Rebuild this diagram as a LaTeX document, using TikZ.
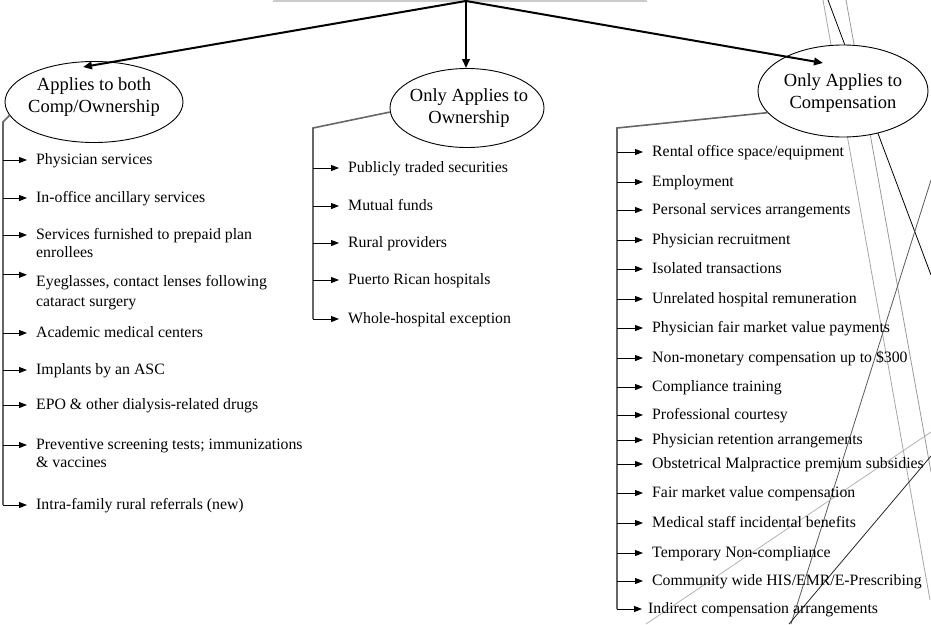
\documentclass[tikz,border=0pt]{standalone}
\usepackage{fontspec}
\setmainfont{Liberation Serif}
\usetikzlibrary{shapes.geometric,arrows.meta}

\tikzset{
  bubble/.style={ellipse, draw, fill=white, line width=0.9pt, inner sep=0pt},
  bubbletext/.style={align=center, inner sep=0pt, font=\fontsize{18.5}{21.5}\selectfont},
  item/.style={anchor=west, inner sep=0pt, text height=11pt, text depth=3pt, font=\fontsize{15.8}{18}\selectfont},
  branch/.style={line width=2pt, -{Triangle[length=9pt,width=7.5pt]}},
  tick/.style={line width=1pt, -{Triangle[length=8pt,width=6pt]}, shorten >=9pt},
  bracket/.style={draw=black!60, line width=1.6pt},
  swoosh/.style={line width=0.8pt}
}

\begin{document}
\begin{tikzpicture}[x=1pt, y=-1pt]
  \useasboundingbox (0,0) rectangle (931,624);

  % template lines in the back
  \draw[swoosh, black!35] (823,0) -- (930,600);
  \draw[swoosh, black!40] (846,0) -- (931,472);
  \draw[swoosh, black] (828,0) -- (931,275);
  \draw[swoosh, black!65] (931,180) -- (791,624);
  \draw[swoosh, black!30] (931,432) -- (646,624);
  \draw[swoosh, black!85] (931,456) -- (789,624);

  \node[draw=black!20, line width=1.5pt, minimum width=372pt, minimum height=40pt] (root) at (460,-19) {};
  \coordinate (apex) at (466,1);

  \node[bubble, minimum width=178pt, minimum height=81pt] (ellL) at (94,102) {};
  \node[bubble, minimum width=154pt, minimum height=79pt] (ellM) at (467,108) {};
  \node[bubble, minimum width=170pt, minimum height=92pt] (ellR) at (843,91) {};
  \node[bubbletext] (capL) at (94,97) {Applies to both\\Comp/Ownership};
  \node[bubbletext] (capM) at (469,108) {Only Applies to\\Ownership};
  \node[bubbletext] (capR) at (843,93) {Only Applies to\\Compensation};

  \draw[branch] (apex) -- ([shift={(-11,-35)}]ellL.center);
  \draw[branch] (apex) -- (apex |- ellM.north);
  \draw[branch] (apex) -- ([shift={(-20,-28)}]ellR.center);

  % comp and ownership
  \node[item] (l1) at (36,160) {Physician services};
  \node[item] (l2) at (36,198) {In-office ancillary services};
  \node[item] (l3) at (36,235) {Services furnished to prepaid plan};
  \node[item] (l3b) at (36,253) {enrollees};
  \node[item] (l4) at (36,282) {Eyeglasses, contact lenses following};
  \node[item] (l4b) at (36,302) {cataract surgery};
  \node[item] (l5) at (36,333) {Academic medical centers};
  \node[item] (l6) at (36,370) {Implants by an ASC};
  \node[item] (l7) at (36,405) {EPO \& other dialysis-related drugs};
  \node[item] (l8) at (36,445) {Preventive screening tests; immunizations};
  \node[item] (l8b) at (36,463) {\& vaccines};
  \node[item] (l9) at (36,505) {Intra-family rural referrals (new)};

  \coordinate (barL) at (3,122);
  \draw[bracket] (ellL.189) -- (barL) -- (barL |- l9.west);
  \draw[tick] (barL |- l1.west) -- (l1.west);
  \draw[tick] (barL |- l2.west) -- (l2.west);
  \draw[tick] (barL |- l3.west) -- (l3.west);
  \draw[tick] (barL |- l4.north) -- (l4.north west);
  \draw[tick] (barL |- l5.west) -- (l5.west);
  \draw[tick] (barL |- l6.west) -- (l6.west);
  \draw[tick] (barL |- l7.west) -- (l7.west);
  \draw[tick] (barL |- l8.west) -- (l8.west);
  \draw[tick] (barL |- l9.west) -- (l9.west);

  % ownership only
  \node[item] (m1) at (348,168) {Publicly traded securities};
  \node[item] (m2) at (348,206) {Mutual funds};
  \node[item] (m3) at (348,243) {Rural providers};
  \node[item] (m4) at (348,280) {Puerto Rican hospitals};
  \node[item] (m5) at (348,319) {Whole-hospital exception};

  \coordinate (barM) at (313,128);
  \draw[bracket] (ellM.183) -- (barM) -- (barM |- m5.west);
  \draw[tick] (barM |- m1.west) -- (m1.west);
  \draw[tick] (barM |- m2.west) -- (m2.west);
  \draw[tick] (barM |- m3.west) -- (m3.west);
  \draw[tick] (barM |- m4.west) -- (m4.west);
  \draw[tick] (barM |- m5.west) -- (m5.west);

  % compensation only
  \node[item] (r1) at (652,152) {Rental office space/equipment};
  \node[item] (r2) at (652,182) {Employment};
  \node[item] (r3) at (652,210) {Personal services arrangements};
  \node[item] (r4) at (652,240) {Physician recruitment};
  \node[item] (r5) at (652,269) {Isolated transactions};
  \node[item] (r6) at (652,299) {Unrelated hospital remuneration};
  \node[item] (r7) at (652,328) {Physician fair market value payments};
  \node[item] (r8) at (652,358) {Non-monetary compensation up to \$300};
  \node[item] (r9) at (652,387) {Compliance training};
  \node[item] (r10) at (652,415) {Professional courtesy};
  \node[item] (r11) at (652,440) {Physician retention arrangements};
  \node[item] (r12) at (652,464) {Obstetrical Malpractice premium subsidies};
  \node[item] (r13) at (652,493) {Fair market value compensation};
  \node[item] (r14) at (652,523) {Medical staff incidental benefits};
  \node[item] (r15) at (652,553) {Temporary Non-compliance};
  \node[item] (r16) at (652,581) {Community wide HIS/EMR/E-Prescribing};
  \node[item] (r17) at (648,609) {Indirect compensation arrangements};

  \coordinate (barR) at (617,128);
  \draw[bracket] (ellR.196) -- (barR) -- (barR |- r17.west);
  \draw[tick] (barR |- r1.west) -- (r1.west);
  \draw[tick] (barR |- r2.west) -- (r2.west);
  \draw[tick] (barR |- r3.west) -- (r3.west);
  \draw[tick] (barR |- r4.west) -- (r4.west);
  \draw[tick] (barR |- r5.west) -- (r5.west);
  \draw[tick] (barR |- r6.west) -- (r6.west);
  \draw[tick] (barR |- r7.west) -- (r7.west);
  \draw[tick] (barR |- r8.west) -- (r8.west);
  \draw[tick] (barR |- r9.west) -- (r9.west);
  \draw[tick] (barR |- r10.west) -- (r10.west);
  \draw[tick] (barR |- r11.west) -- (r11.west);
  \draw[tick] (barR |- r12.west) -- (r12.west);
  \draw[tick] (barR |- r13.west) -- (r13.west);
  \draw[tick] (barR |- r14.west) -- (r14.west);
  \draw[tick] (barR |- r15.west) -- (r15.west);
  \draw[tick] (barR |- r16.west) -- (r16.west);
  \draw[tick, shorten >=6pt] (barR |- r17.west) -- (r17.west);
\end{tikzpicture}
\end{document}
